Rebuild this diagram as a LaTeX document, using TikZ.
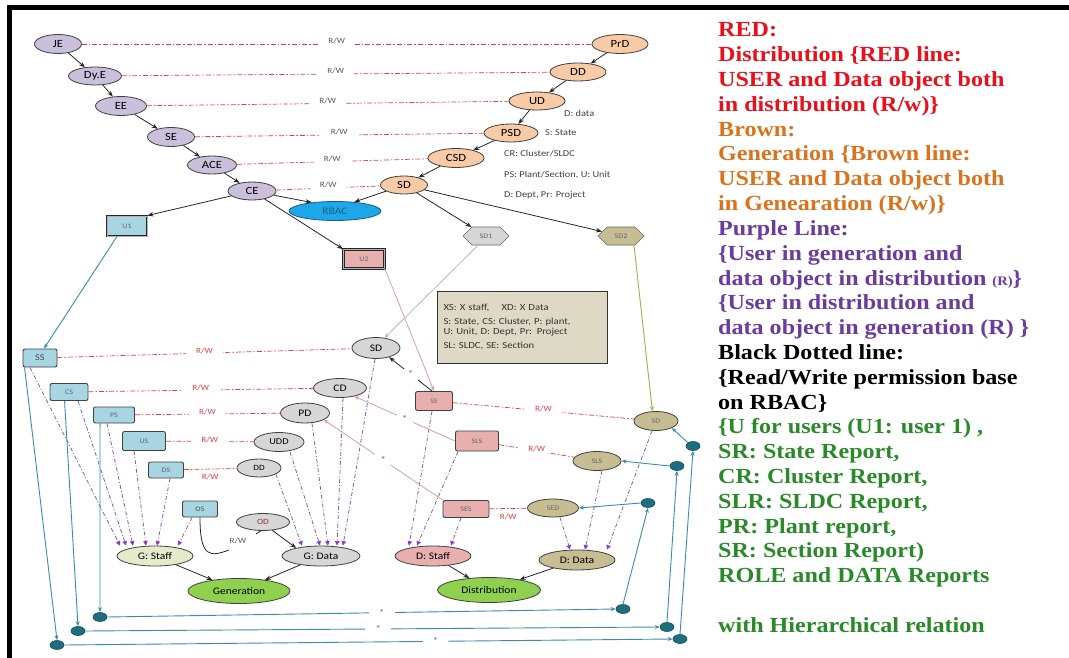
\documentclass[tikz,border=0pt]{standalone}
\usepackage{fontspec}
\setmainfont{Liberation Serif}
\newfontfamily\dfont[FakeStretch=1.15]{Carlito}
\newfontfamily\rfont[FakeStretch=1.12]{Liberation Serif}
\usetikzlibrary{shapes.geometric,shapes.symbols,arrows.meta,calc}
\definecolor{lav}{HTML}{CBC0DC}
\definecolor{peach}{HTML}{F8CBA6}
\definecolor{rbacb}{HTML}{1CA7E8}
\definecolor{rbacd}{HTML}{1A5E86}
\definecolor{ltblue}{HTML}{A8D5E2}
\definecolor{grayf}{HTML}{D6D6D6}
\definecolor{khakif}{HTML}{C6BD93}
\definecolor{pinkf}{HTML}{E8AFAF}
\definecolor{gstaff}{HTML}{E3EBC9}
\definecolor{greenf}{HTML}{8FD14F}
\definecolor{legendf}{HTML}{DDD9C4}
\definecolor{tealL}{HTML}{3A8EA3}
\definecolor{tealC}{HTML}{1E6E80}
\definecolor{tealD}{HTML}{154F5C}
\definecolor{olivel}{HTML}{9AB34E}
\definecolor{pinkl}{HTML}{D7A0A0}
\definecolor{grayl}{HTML}{B8B8B8}
\definecolor{rwred}{HTML}{DC4040}
\definecolor{purl}{HTML}{7A62AE}
\definecolor{purh}{HTML}{8A3CC8}
\definecolor{odred}{HTML}{A03030}
\definecolor{tred}{HTML}{E8101A}
\definecolor{tbrown}{HTML}{D9741E}
\definecolor{tpurple}{HTML}{6A3C9C}
\definecolor{tgreen}{HTML}{2A8A2A}
\newcommand\dsz[1]{\dfont\fontsize{#1}{#1}\selectfont}
\begin{document}
\begin{tikzpicture}[x=1pt,y=-1pt,
  ell/.style={ellipse, draw=black!75, line width=0.8pt, inner sep=0pt},
  bx/.style={rectangle, rounded corners=2pt, draw=black!75, line width=0.9pt, inner sep=0pt},
  dbx/.style={rectangle, draw=black!85, line width=0.9pt, double=gray!60, double distance=1pt, inner sep=0pt},
  hex/.style={signal, signal to=east and west, draw=black!60, line width=0.6pt, inner sep=0pt},
  circ/.style={ellipse, fill=tealC, draw=tealD, line width=0.6pt, minimum width=14pt, minimum height=9pt, inner sep=0pt},
  ar/.style={-{Stealth[length=6pt,width=4.5pt]}, line width=0.8pt, draw=black!85},
  rw/.style={draw=rwred, line width=0.7pt, dash pattern=on 5pt off 2pt on 1.5pt off 2pt},
  rwl/.style={fill=white, inner xsep=10pt, inner ysep=1.5pt, yshift=3pt, text=black!65, font=\dsz{8}},
  rwr/.style={fill=white, inner xsep=10pt, inner ysep=1.5pt, yshift=2pt, text=rwred, font=\dsz{8}},
  rwb/.style={inner sep=1pt, yshift=-8pt, text=rwred, font=\dsz{8}},
  pl/.style={draw=purl, line width=0.8pt, dash pattern=on 4pt off 2pt on 1pt off 2pt, -{Triangle[length=4.5pt,width=4.5pt,color=purh]}},
  pk/.style={draw=pinkl, line width=0.8pt, -{Stealth[length=5pt,width=4pt]}},
  tl/.style={draw=tealL, line width=0.9pt, -{Stealth[length=5pt,width=4pt]}},
  star/.style={fill=white, inner xsep=5pt, inner ysep=2pt, text=black!55, font=\dsz{10}},
  tstar/.style={fill=white, inner xsep=10pt, inner ysep=2pt, text=black!55, font=\dsz{10}},
  sl/.style={anchor=west, inner sep=0pt, text=black!75, font=\dsz{9}},
  rt/.style={anchor=base west, inner sep=0pt, font=\rfont\bfseries\fontsize{21.5}{24}\selectfont}
]
\useasboundingbox (0,0) rectangle (1069,658);
\fill[white] (0,0) rectangle (1069,658);
\draw[line width=4.5pt] (9.5,660) -- (9.5,7.5) -- (1071,7.5);

% ---------- top chains ----------
\node[ell, fill=lav, minimum width=47pt, minimum height=19pt, font=\dsz{11}] (JE) at (58,44) {JE};
\node[ell, fill=lav, minimum width=53pt, minimum height=18pt, font=\dsz{11}] (DyE) at (95,76) {Dy.E};
\node[ell, fill=lav, minimum width=51pt, minimum height=19pt, font=\dsz{11}] (EE) at (121,106) {EE};
\node[ell, fill=lav, minimum width=47pt, minimum height=19pt, font=\dsz{11}] (SE) at (171,137) {SE};
\node[ell, fill=lav, minimum width=49pt, minimum height=18pt, font=\dsz{11}] (ACE) at (212,165) {ACE};
\node[ell, fill=lav, minimum width=48pt, minimum height=18pt, font=\dsz{11}] (CE) at (252,191) {CE};

\node[ell, fill=peach, minimum width=56pt, minimum height=19pt, font=\dsz{11}] (PcD) at (620,44) {PrD};
\node[ell, fill=peach, minimum width=56pt, minimum height=18pt, font=\dsz{11}] (DDt) at (578,72) {DD};
\node[ell, fill=peach, minimum width=56pt, minimum height=18pt, font=\dsz{11}] (UD) at (537,101) {UD};
\node[ell, fill=peach, minimum width=54pt, minimum height=18pt, font=\dsz{11}] (PSD) at (511,133) {PSD};
\node[ell, fill=peach, minimum width=56pt, minimum height=19pt, font=\dsz{11}] (CSD) at (456,158) {CSD};
\node[ell, fill=peach, minimum width=47pt, minimum height=18pt, font=\dsz{11}] (SDt) at (404,185) {SD};

\node[ellipse, fill=rbacb, draw=rbacd, line width=0.8pt, inner sep=0pt, minimum width=92pt, minimum height=19pt, text=rbacd, font=\dsz{10}] (RBAC) at (335,211) {RBAC};

\node[sl] (lD) at (564,113) {D: data};
\node[sl] (lS) at (545,133) {S: State};
\node[sl] (lCR) at (504,154) {CR: Cluster/SLDC};
\node[sl] (lPS) at (504,175) {PS: Plant/Section, U: Unit};
\node[sl] (lDP) at (504,195) {D: Dept, Pr: Project};

\draw[ar] (JE) -- (DyE);
\draw[ar] (DyE) -- (EE);
\draw[ar] (EE) -- (SE);
\draw[ar] (SE) -- (ACE);
\draw[ar] (ACE) -- (CE);
\draw[ar] (PcD) -- (DDt);
\draw[ar] (DDt) -- (UD);
\draw[ar] (UD) -- (PSD);
\draw[ar] (PSD) -- (CSD);
\draw[ar] (CSD) -- (SDt);

\draw[rw] (JE) -- node[rwl]{R/W} (PcD);
\draw[rw] (DyE) -- node[rwl]{R/W} (DDt);
\draw[rw] (EE) -- node[rwl]{R/W} (UD);
\draw[rw] (SE) -- node[rwl]{R/W} (PSD);
\draw[rw] (ACE) -- node[rwl]{R/W} (CSD);
\draw[rw] (CE) -- node[rwl]{R/W} (SDt);

% ---------- users / sd ----------
\node[dbx, fill=ltblue, minimum width=40pt, minimum height=20pt, font=\dsz{7}, text=black!60] (U1) at (127,226) {U1};
\node[dbx, fill=pinkf, minimum width=41pt, minimum height=19pt, font=\dsz{7}, text=black!60] (U2) at (364,259) {U2};
\node[hex, fill=grayf, minimum width=46pt, minimum height=18pt, font=\dsz{7}, text=black!60] (SD1) at (486,236) {SD1};
\node[hex, fill=khakif, minimum width=46pt, minimum height=18pt, font=\dsz{7}, text=black!60] (SD2) at (621,236) {SD2};

\draw[ar] (CE) -- (RBAC.160);
\draw[ar] (SDt) -- (RBAC.25);
\draw[ar] (CE) -- (U1.north east);
\draw[ar] (CE) -- (U2.north west);
\draw[ar] (SDt) -- (SD1);
\draw[ar] (SDt) -- (SD2);

% legend box
\node[draw=black!80, line width=1pt, fill=legendf, text width=157pt, inner xsep=6.5pt, minimum height=72pt, align=left, font=\dsz{9.3}, text=black!80] (leg) at (522,327)
 {XS: X staff,\quad\ XD: X Data\\[5pt] S: State, CS: Cluster, P: plant,\\ U: Unit, D: Dept, Pr: Project\\[5pt] SL: SLDC, SE: Section};

% ---------- generation side ----------
\node[bx, fill=ltblue, minimum width=34pt, minimum height=18pt, font=\dsz{9}, text=black!70] (SS) at (40,358) {SS};
\node[bx, fill=ltblue, minimum width=38pt, minimum height=17pt, font=\dsz{7}, text=black!60] (CS) at (69,392) {CS};
\node[bx, fill=ltblue, minimum width=41pt, minimum height=16pt, font=\dsz{7}, text=black!60] (PS) at (114,415) {PS};
\node[bx, fill=ltblue, minimum width=43pt, minimum height=19pt, font=\dsz{7}, text=black!60] (US) at (144,441) {US};
\node[bx, fill=ltblue, minimum width=35pt, minimum height=16pt, font=\dsz{7}, text=black!60] (DS) at (166,470) {DS};
\node[bx, fill=ltblue, minimum width=35pt, minimum height=16pt, font=\dsz{7}, text=black!70] (OS) at (200,509) {OS};

\node[ell, fill=grayf, minimum width=48pt, minimum height=21pt, font=\dsz{10}] (SDg) at (376,348) {SD};
\node[ell, fill=grayf, minimum width=53pt, minimum height=19pt, font=\dsz{10}] (CD) at (340,388) {CD};
\node[ell, fill=grayf, minimum width=49pt, minimum height=20pt, font=\dsz{10}] (PD) at (305,413) {PD};
\node[ell, fill=grayf, minimum width=50pt, minimum height=19pt, font=\dsz{9}] (UDD) at (279,442) {UDD};
\node[ell, fill=grayf, minimum width=44pt, minimum height=18pt, font=\dsz{8}] (DDg) at (259,468) {DD};
\node[ell, fill=grayf, minimum width=53pt, minimum height=17pt, font=\dsz{8}, text=odred] (OD) at (263,522) {OD};

\node[ell, fill=gstaff, minimum width=76pt, minimum height=20pt, font=\dsz{10}] (GS) at (155,556) {G: Staff};
\node[ell, fill=grayf, minimum width=78pt, minimum height=20pt, font=\dsz{10}] (GD) at (321,556) {G: Data};
\node[ell, fill=greenf, minimum width=102pt, minimum height=25pt, font=\dsz{10}] (Gen) at (239,591) {Generation};

% ---------- distribution side ----------
\node[bx, fill=pinkf, minimum width=37pt, minimum height=19pt, font=\dsz{7}, text=black!60] (SA) at (434,401) {SS};
\node[bx, fill=pinkf, minimum width=43pt, minimum height=20pt, font=\dsz{7}, text=black!60] (SLS) at (477,441) {SLS};
\node[bx, fill=pinkf, minimum width=46pt, minimum height=17pt, font=\dsz{7}, text=black!60] (SES) at (466,509) {SES};

\node[ell, fill=khakif, minimum width=44pt, minimum height=19pt, font=\dsz{7}, text=black!60] (SDd) at (656,421) {SD};
\node[ell, fill=khakif, minimum width=48pt, minimum height=19pt, font=\dsz{7}, text=black!60] (SLSd) at (597,461) {SLS};
\node[ell, fill=khakif, minimum width=51pt, minimum height=18pt, font=\dsz{7}, text=black!60] (SED) at (553,508) {SED};

\node[ell, fill=pinkf, minimum width=76pt, minimum height=20pt, font=\dsz{10}] (DSt) at (433,556) {D: Staff};
\node[ell, fill=khakif, minimum width=76pt, minimum height=20pt, font=\dsz{10}] (DDa) at (577,560) {D: Data};
\node[ell, fill=greenf, minimum width=103pt, minimum height=25pt, font=\dsz{10}] (Dist) at (489,590) {Distribution};

% circles
\node[circ] (c1) at (100,617) {};
\node[circ] (c2) at (78,631) {};
\node[circ] (c3) at (57,645) {};
\node[circ] (r1) at (623,609) {};
\node[circ] (r2) at (667,627) {};
\node[circ] (r3) at (680,639) {};
\node[circ] (r4) at (648,503) {};
\node[circ] (r5) at (677,466) {};
\node[circ] (r6) at (693,446) {};

% R/W lower
\draw[rw] (SS) -- node[rwr]{R/W} (SDg);
\draw[rw] (CS) -- node[rwr]{R/W} (CD);
\draw[rw] (PS) -- node[rwr]{R/W} (PD);
\draw[rw] (US) -- node[rwr]{R/W} (UDD);
\draw[rw] (DS) -- node[rwb]{R/W} (DDg);
\draw[rw] (SA) -- node[rwr]{R/W} (SDd);
\draw[rw] (SLS) -- node[rwr]{R/W} (SLSd);
\draw[rw] (SES) -- node[rwb]{R/W} (SED);

% purple
\draw[pl] ($(SS.south)+(-10,0)$) -- ($(GS.north)+(-35,0)$);
\draw[pl] ($(CS.south)+(9,0)$) -- ($(GS.north)+(-29,0)$);
\draw[pl] ($(PS.south)+(-7,0)$) -- ($(GS.north)+(-22,0)$);
\draw[pl] ($(US.south)+(-10,0)$) -- ($(GS.north)+(-9,0)$);
\draw[pl] ($(DS.south)+(4,0)$) -- ($(GS.north)+(2,0)$);
\draw[pl] ($(OS.south)+(-8,0)$) -- ($(GS.north)+(23,0)$);
\draw[pl] (DDg.-20) -- ($(GD.north)+(-19,0)$);
\draw[pl] ($(UDD.south)+(11,0)$) -- ($(GD.north)+(-1,0)$);
\draw[pl] ($(PD.south)+(7,0)$) -- ($(GD.north)+(7,0)$);
\draw[pl] ($(CD.south)+(3,0)$) -- ($(GD.north)+(16,0)$);
\draw[pl] ($(SDg.south)+(-1,0)$) -- ($(GD.north)+(22,0)$);
\draw[pl] ($(SA.south)+(-2,0)$) -- ($(DSt.north)+(-24,0)$);
\draw[pl] ($(SLS.south)+(-19,0)$) -- ($(DSt.north)+(-16,0)$);
\draw[pl] ($(SES.south)+(-5,0)$) -- ($(DSt.north)+(18,0)$);
\draw[pl] ($(SED.south)+(7,0)$) -- ($(DDa.north)+(-7,0)$);
\draw[pl] ($(SLSd.south)+(5,0)$) -- ($(DDa.north)+(8,0)$);
\draw[pl] ($(SDd.south)+(-4,0)$) -- ($(DDa.north)+(30,0)$);

% black
\draw[ar] (GS) -- (Gen);
\draw[ar] (GD) -- (Gen);
\draw[ar] (DSt) -- (Dist);
\draw[ar] (DDa) -- (Dist);
\draw[ar] (OD.-42) -- (GD.162);
\coordinate (osA) at (229,550);
\coordinate (osB) at (256,534);
\draw[line width=0.8pt, black!85] (OS.south) .. controls (200,558) and (210,557) .. (osA);
\node[font=\dsz{8}, text=black!65] (rwOS) at (238,541) {R/W};
\draw[line width=0.8pt, black!85] (osB) -- (OD.-105);
\draw[ar] ($(SA.north)+(-2,0)$) -- node[star]{*} (SDg.-35);

% pink
\draw[pk] (U2.south east) -- (SA.north);
\draw[pk] (SLS.west) -- node[star]{*} (CD.-30);
\draw[pk] (SES.north west) -- node[star]{*} (PD.-20);

% gray / olive / teal
\draw[draw=grayl, line width=0.8pt, -{Stealth[length=5pt,width=4pt]}] ($(SD1.south)+(-8,0)$) -- (SDg.50);
\draw[draw=olivel, line width=0.9pt, -{Stealth[length=5pt,width=4pt]}] ($(SD2.south)+(13,0)$) -- (SDd.110);
\draw[tl] ($(U1.south)+(-10,0)$) -- ($(SS.north)+(4,0)$);
\draw[tl] ($(PS.south west)+(7,0)$) -- (c1.north);
\draw[tl] ($(CS.south west)+(15,0)$) -- (c2.north);
\draw[tl] ($(SS.south west)+(2,0)$) -- (c3.north);
\draw[tl] (c1.east) -- node[pos=.54, tstar]{*} (r1.west);
\draw[tl] (c2.east) -- node[pos=.51, tstar]{*} (r2.west);
\draw[tl] (c3.east) -- node[pos=.61, tstar]{*} (r3.west);
\draw[tl] (r1.north) -- (r4.south);
\draw[tl] (r2.north) -- (r5.south);
\draw[tl] (r3.north) -- (r6.south);
\draw[tl] (r4.west) -- (SED.east);
\draw[tl] (r5.west) -- (SLSd.east);
\draw[tl] (r6.north west) -- (SDd.south east);

% ---------- right text ----------
\node[rt, text=tred] (t1) at (718,37) {RED:};
\node[rt, text=tred] (t2) at (718,61.8) {Distribution \{RED line:};
\node[rt, text=tred] (t3) at (718,86.6) {USER and Data object both};
\node[rt, text=tred] (t4) at (718,111.4) {in distribution (R/w)\}};
\node[rt, text=tbrown] (t5) at (718,136.2) {Brown:};
\node[rt, text=tbrown] (t6) at (718,161) {Generation \{Brown line:};
\node[rt, text=tbrown] (t7) at (718,185.8) {USER and Data object both};
\node[rt, text=tbrown] (t8) at (718,210.6) {in Genearation (R/w)\}};
\node[rt, text=tpurple] (t9) at (718,235.4) {Purple Line:};
\node[rt, text=tpurple] (t10) at (718,260.2) {\{User in generation and};
\node[rt, text=tpurple] (t11) at (718,285) {data object in distribution {\fontsize{13}{13}\selectfont(R)}\}};
\node[rt, text=tpurple] (t12) at (718,309.8) {\{User in distribution and};
\node[rt, text=tpurple] (t13) at (718,334.6) {data object in generation (R) \}};
\node[rt, text=black] (t14) at (718,359.4) {Black Dotted line:};
\node[rt, text=black] (t15) at (718,384.2) {\{Read/Write permission base};
\node[rt, text=black] (t16) at (718,409) {on RBAC\}};
\node[rt, text=tgreen] (t17) at (718,433.8) {\{U for users (U1: user 1) ,};
\node[rt, text=tgreen] (t18) at (718,458.6) {SR: State Report,};
\node[rt, text=tgreen] (t19) at (718,483.4) {CR: Cluster Report,};
\node[rt, text=tgreen] (t20) at (718,508.2) {SLR: SLDC Report,};
\node[rt, text=tgreen] (t21) at (718,533) {PR: Plant report,};
\node[rt, text=tgreen] (t22) at (718,557.8) {SR: Section Report)};
\node[rt, text=tgreen] (t23) at (718,582.6) {ROLE and DATA Reports};
\node[rt, text=tgreen] (t24) at (718,632) {with Hierarchical relation};
\end{tikzpicture}
\end{document}
